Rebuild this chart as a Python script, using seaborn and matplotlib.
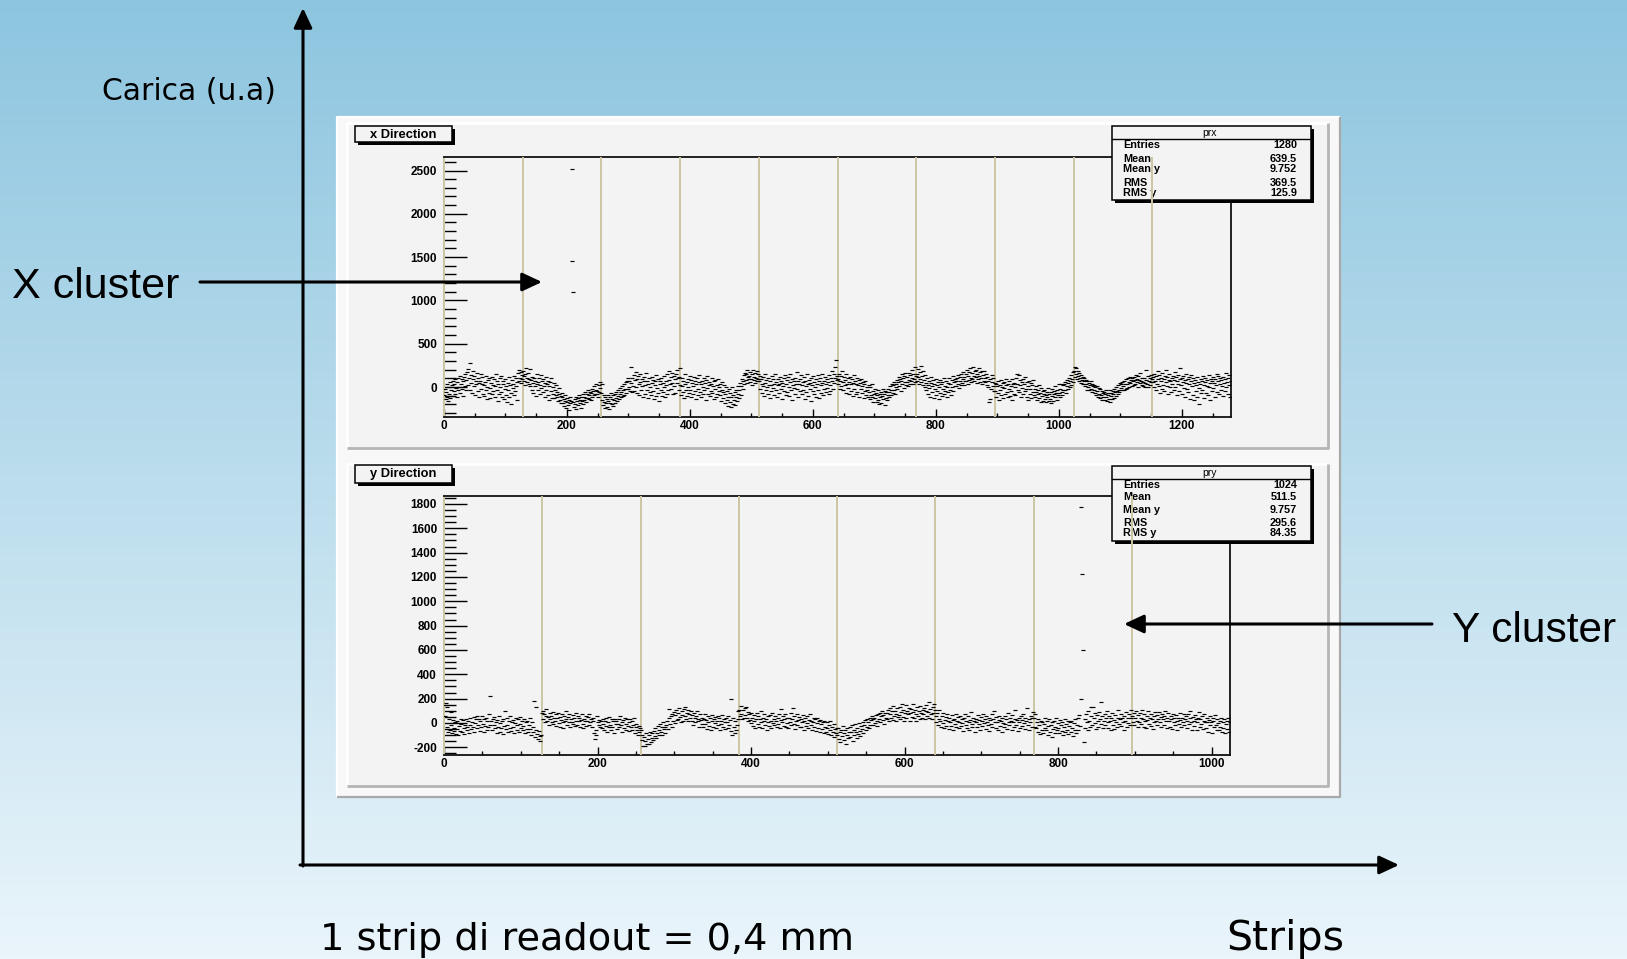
import numpy as np
import pandas as pd
import matplotlib
matplotlib.use("Agg")
import matplotlib.pyplot as plt
from matplotlib.patches import Rectangle
from matplotlib.lines import Line2D
from matplotlib.ticker import MultipleLocator
import seaborn as sns

# ---------------------------------------------------------------- data
# Charge per readout strip, x direction (10 APV chips x 128 strips)
x_apv0 = [-95, -20, -140, -55, 40, -110, -160, -5, -75, 60, -130, -35, 25, -100, 70, -50,
          30, -85, 95, -15, -120, 55, -40, 110, 5, -70, 130, 35, -25, 90, -105, 65,
          120, 10, 150, -40, 85, 175, 20, 210, 100, -30, 280, 45, 135, -65, 95, 190,
          15, 130, -90, 75, 35, 165, -45, 105, 50, -120, 70, 145, -20, 30, 115, -80,
          25, -105, 60, -35, 130, -140, 5, 80, -70, 100, -15, -125, 45, 120, -85, 20,
          -50, 90, -115, 10, 150, -30, 65, -160, 40, -75, 110, -5, -60, 125, -120, 35,
          70, -140, -25, 95, -90, 15, -170, 50, -40, 115, -110, 20, -65, -195, 80, -10,
          40, -95, 130, -45, 15, 100, -150, 60, 160, 75, 200, 110, 45, 170, 90, 135]
x_apv1 = [180, 70, 130, 20, 150, 225, 55, 110, 165, 30, 95, 205, 10, 80, -30, 120,
          45, -70, 105, 15, 75, -100, 35, 145, -40, 60, 100, -80, 25, 135, -15, 65,
          -55, 90, 10, -115, 50, 120, -30, 35, -95, 75, -150, 15, 60, -45, 100, -125,
          -5, -80, 45, -130, -40, -95, 25, -120, -60, -160, -85, -15, -145, -100, -180, -65,
          -110, -185, -140, -220, -160, -95, -245, -170, -130, -205, -150, -265, -120, -190, -160, 1450,
          2520, -175, 1100, -230, -140, -200, -115, -255, -165, -130, -210, -90, -185, -145, -240, -120,
          -160, -75, -195, -110, -150, -55, -130, -170, -85, -125, -30, -140, -95, -60, -155, -70,
          -20, -110, -45, -95, 10, -75, -30, 40, -85, -50, -120, 20, -60, -15, 55, -70]
x_apv2 = [40, -150, -210, -90, -175, -240, -115, -190, -140, -225, -95, -165, -250, -120, -185, -70,
          -200, -135, -95, -215, -155, -80, -180, -125, -60, -160, -100, -30, -140, -75, -10, -115,
          -60, 15, -105, -35, 40, -90, -20, 55, -70, 65, -25, 110, 0, 75, -45, 230,
          45, -60, 105, 15, 140, -50, 80, 175, -5, 95, -65, 125, 30, -95, 60, 150,
          -40, 90, 10, -115, 70, 120, -75, 25, 160, -30, 65, -130, 35, 100, -60, 5,
          -90, 50, 115, -45, 85, -140, 20, 70, -105, 135, -10, -70, 95, -165, 40, 75,
          -35, 110, -100, 45, -55, 125, 5, -120, 75, 25, -80, 145, -40, 85, 190, 30,
          115, -25, 160, 50, -85, 130, 15, 90, -65, 150, 195, 45, 105, -40, 120, 215]
x_apv3 = [25, -90, 110, 10, -55, 75, -125, 40, 145, -30, 60, -105, 90, -5, -70, 130,
          -35, 85, -115, 45, 15, -80, 120, -45, 65, -140, 30, 100, -20, -95, 55, 140,
          -60, 35, -120, 75, 5, -75, 105, -30, 50, -150, 85, -15, 125, -85, 20, 60,
          -105, 40, -45, 110, -70, 15, -135, 65, -25, 85, -115, 25, -80, 95, -50, 0,
          -95, 30, -160, -35, 55, -125, -60, 20, -185, -85, 5, -150, -45, -215, -110, -20,
          -170, -70, -225, -120, -5, -195, -95, -145, -60, -205, -110, -35, -160, -85, 10, -125,
          -40, 45, -95, 15, 95, -20, 70, 135, 30, 160, 80, 145, 50, 200, 115, 90,
          130, 60, 175, 95, 25, 145, 200, 80, 120, 45, 165, 100, 190, 70, 150, 95]
x_apv4 = [70, 130, -25, 95, 35, -65, 115, 10, -100, 50, 145, -40, 85, 0, -75, 105,
          25, -125, 65, 20, -50, 125, -15, 90, -90, 40, 155, -30, 60, -110, 20, 95,
          -70, 35, 115, -20, 75, -135, 45, 10, 100, -45, 140, -95, 30, 85, -55, 120,
          5, -105, 60, 150, -35, 90, -145, 25, 65, -15, 110, -75, 40, 170, -25, 75,
          -120, 35, 95, -50, 135, 20, -85, 55, -30, 115, -135, 70, 10, -60, 145, 30,
          -100, 85, -20, 50, -160, 100, 25, -45, 125, -80, 60, 0, 90, -110, 35, 140,
          -40, 65, -125, 110, 20, -70, 150, 45, -95, 75, -25, 120, -55, 30, 95, -15,
          60, -85, 135, 25, -50, 100, 180, 70, -20, 145, 50, 230, 110, 310, 130, 85]
x_apv5 = [95, 35, 155, -25, 70, 130, 10, 190, 55, -40, 115, 25, 85, -65, 145, 40,
          -15, 100, -75, 60, 120, -45, 30, 90, -100, 50, 140, -20, 70, -85, 35, 110,
          -55, 20, 85, -110, 45, -25, 95, -70, 10, 60, -125, 30, -50, 75, -95, 0,
          -30, -110, 20, -60, -140, -5, -90, 40, -120, -50, -170, -80, -20, -130, -70, -175,
          -95, -35, -150, -195, -75, -120, -55, -185, -105, -25, -140, -85, -210, -45, -125, -60,
          -155, -95, -20, -120, -55, 15, -90, -40, 30, -70, 20, -30, 60, -80, 40, 0,
          85, -25, 60, 120, 10, 95, -50, 70, 145, 35, 110, -15, 130, 60, 165, 25,
          60, 120, 15, 165, 85, 30, 140, 70, 195, 100, 40, 150, 90, 230, 55, 125]
x_apv6 = [155, 70, 210, 120, 35, 175, 90, 240, 55, 130, 20, 185, 80, -5, 140, 45,
          -30, 100, 25, -80, 65, -10, -110, 45, 115, -55, 10, 80, -125, 35, -25, 90,
          -90, 20, -45, 60, -140, 5, 85, -70, 30, -105, 55, -20, 110, -80, 15, -50,
          65, -115, 5, 45, -60, 100, -30, 30, -95, 80, -5, 130, -45, 55, 95, 10,
          75, 10, 105, 30, 135, -15, 65, 115, 20, 150, 50, 90, 170, 25, 120, 70,
          150, 70, 195, 35, 125, 175, 85, 215, 110, 55, 165, 95, 235, 130, 65, 180,
          115, 200, 50, 155, 90, 220, 130, 60, 170, 100, 190, 35, 140, 75, 180, 110,
          60, 155, 20, 115, 75, 0, -170, -140, 90, -20, 55, 140, 10, 100, -45, 45]
x_apv7 = [-50, 35, -110, 10, 75, -70, -145, 20, -35, 85, -95, 0, 50, -130, -10, 60,
          -85, 25, 95, -60, -120, 35, -25, 70, -105, 15, -50, 90, -155, 30, -75, 45,
          5, -95, 110, 150, 40, -35, 140, -60, 20, 85, -120, 55, -10, 95, -85, 35,
          -50, 120, -25, -110, 60, 10, -145, 70, -75, -20, 45, -130, 25, -60, 85, -95,
          -20, -110, 15, -60, -150, -30, -85, 25, -125, -65, -170, -10, -100, -45, -160, -75,
          -40, -135, -90, -175, -55, -115, -15, -160, -80, -140, -185, -60, -105, -25, -165, -85,
          -45, -120, 15, -70, -150, -35, -95, 35, -65, -20, -115, 40, -55, -90, 20, -30,
          30, -35, 60, -70, 15, 85, -20, 45, 110, 5, 70, 135, 25, 95, 170, 55]
x_apv8 = [190, 227, 120, 215, 150, 95, 185, 125, 70, 160, 110, 45, 140, 85, 30, 115,
          65, 105, 15, 80, 40, -30, 75, 5, 50, -40, 25, 65, -20, 35, -55, 10,
          -35, 25, -65, 0, -90, 10, -45, -110, -15, -75, -130, -25, -95, -50, -145, -70,
          -115, -55, -150, -80, -30, -120, -165, -65, -95, -135, -40, -175, -100, -70, -140, -45,
          -85, -125, -20, -60, -100, 5, -45, -80, 20, -30, -55, 45, -15, 35, -40, 60,
          10, -40, 70, 30, -25, 90, 40, -15, 100, 55, -5, 120, 45, 80, 15, 110,
          70, 25, 120, 80, 35, 140, 55, 95, 5, 125, 85, 45, 160, 65, 105, 20,
          60, 15, 110, 50, -5, 80, 196, 40, 130, 5, 70, 100, 25, 140, 55, 90]
x_apv9 = [60, 120, 5, 150, 75, -30, 130, 40, 180, 90, 15, 140, -70, 105, 65, -20,
          165, 25, 95, -50, 125, 55, 195, 10, 115, -85, 80, 150, -5, 70, -60, 105,
          40, 130, -35, 85, 175, 0, 115, -95, 65, 30, 140, -45, 90, 215, 20, 100,
          -75, 55, 125, -10, 80, -120, 45, 150, -25, 95, -60, 115, 35, -140, 70, 135,
          10, -90, 105, 45, -155, 85, 20, -50, 120, -110, 60, -15, -200, 35, 95, -65,
          70, -35, 130, 20, -130, 60, 105, -70, 15, 85, -95, 140, -5, -150, 50, 95,
          -45, 75, 120, -15, 50, -115, 95, 25, 155, -60, 65, 130, -85, 35, 105, -30,
          85, 10, -100, 120, 50, -45, 95, 165, -5, 60, -75, 110, 25, 135, -120, 70]

# Charge per readout strip, y direction (8 APV chips x 128 strips)
y_apv0 = [150, 60, 165, -35, 130, -70, 35, -55, 90, -20, -80, 25, -65, -40, 10, -90,
          -50, 20, -95, -25, -65, 35, -10, -75, 25, -40, -90, -15, 30, -60, -30, 15,
          -80, -20, 40, -50, 10, -30, 50, -70, 0, 30, -45, 60, -15, 35, -65, 20,
          -35, 55, -10, -75, 30, -25, 45, -55, 15, -35, 70, -15, 220, 20, -60, 35,
          -20, 50, -40, 10, -85, 25, -30, 55, -70, 0, -45, 20, -90, 30, -25, 95,
          -50, 40, -20, -75, 15, -45, 55, -65, 10, -35, 25, -80, 0, 45, -55, -15,
          30, -70, -10, 50, -40, 20, -60, -25, 35, -85, 5, -50, 20, -70, -15, 45,
          -50, -100, 10, -35, -75, 178, -115, 130, -60, -90, -135, -65, -110, -150, -95, 80]
y_apv1 = [95, 35, 75, 5, 60, 115, 20, 50, -15, 85, 30, 60, 10, 90, -5, 45,
          15, 70, -25, 40, 80, 0, 50, -30, 25, 75, 10, -40, 60, 20, 100, 35,
          -15, 50, 10, 70, -35, 35, 5, 65, -5, 40, -25, 85, 20, -20, 55, 15,
          45, -30, 25, 70, -5, -45, 35, 15, 60, -25, 20, 50, -15, 75, 10, 30,
          -35, 15, 45, -85, -130, -60, -95, 55, 5, 25, -20, -30, 15, -45, 35, -5,
          -55, 20, -25, 40, -70, 5, -35, 50, -15, -60, 30, -30, 15, -80, 35, -10,
          20, -50, -5, 35, -35, 60, -20, -70, 10, 25, -45, 45, -10, -55, 30, -25,
          5, -65, 30, -30, 15, -55, -15, 40, -80, -35, -5, -60, -95, -25, -70, -45]
y_apv2 = [-55, -140, -95, -185, -115, -190, -150, -80, -175, -130, -100, -170, -70, -155, -120, -85,
          -140, -65, -110, -45, -125, -80, -25, -95, -55, -10, -75, -35, -100, 10, -50, -30,
          -85, -15, 20, -50, 40, 118, -10, 55, -30, 70, 20, 90, 0, 65, 105, 25,
          85, 30, 120, 50, 5, 100, 65, 20, 115, 55, 130, 35, 80, 15, 105, 70,
          45, 95, 15, 65, -20, 85, 40, 5, 60, 100, 20, 35, -30, 75, 25, -5,
          40, -35, 30, 70, -10, 25, -50, 55, 10, -25, 45, -55, 20, 65, -30, 30,
          0, 50, -40, 15, 60, -20, 40, -60, 20, -5, 65, -35, 30, 5, -50, 45,
          10, -45, 55, -20, 25, 200, -65, -100, 40, -30, -85, 15, -55, -15, 30, 95]
y_apv3 = [110, 55, 140, 75, 30, 105, 40, 125, 65, 130, 45, 90, 15, 70, 25, 85,
          0, 45, -25, 65, 20, -40, 35, 80, -10, 55, -30, 30, 95, 5, -45, 40,
          15, 70, -15, 30, -55, 55, 10, -25, 65, 20, -40, 85, 0, 35, -20, 60,
          20, -35, 45, -5, 75, -45, 25, 118, 5, 55, -25, 30, 70, -30, 40, 0,
          -40, 45, 10, 80, -20, 35, 120, -10, 60, -50, 20, 70, -15, 25, 50, -30,
          30, -35, 5, 65, -55, 20, 45, -25, 55, 0, -40, 25, 75, -15, 15, -60,
          10, 45, -30, 30, -65, 0, 40, -40, 15, -75, 25, -10, -50, 5, -85, 20,
          -35, -70, 5, -45, -90, -20, 15, -60, -100, -30, -75, -5, -115, -50, -85, -40]
y_apv4 = [-95, -40, -135, -75, -155, -55, -110, -25, -140, -85, -60, -170, -100, -45, -125, -70,
          -35, -115, -75, -20, -145, -55, -95, -10, -70, -125, -40, -90, 0, -65, -110, -25,
          -50, 10, -80, -20, 25, -60, 35, -30, 10, -45, 40, -15, 25, 55, -20, 35,
          45, 0, 65, 20, -25, 70, 35, 85, 5, 55, 95, 25, 65, -10, 80, 40,
          85, 35, 110, 15, 70, 125, 45, 95, 25, 140, 55, 100, 20, 75, 120, 50,
          65, 130, 30, 90, 155, 50, 110, 20, 80, 145, 40, 100, 70, 125, 15, 85,
          115, 50, 90, 160, 40, 105, 70, 20, 130, 60, 100, 30, 140, 80, 45, 110,
          70, 125, 30, 100, 150, 55, 90, 170, 45, 115, 75, 35, 135, 85, 160, 105]
y_apv5 = [60, 5, 85, -20, 35, 110, 15, -35, 55, 0, 80, -45, 25, 50, -25, 70,
          15, -50, 45, 5, -25, 65, 25, -55, 35, -5, 75, -35, 20, 50, -40, 10,
          55, -25, 30, 0, -65, 40, 70, -15, 20, -45, 60, 10, -55, 25, 90, -5,
          -30, 45, 15, -70, 35, 5, -35, 65, -5, 25, -55, 50, 15, -25, 75, 0,
          30, -50, 60, 10, -20, 45, -65, 25, -5, 70, -30, 35, 95, 10, -40, 50,
          5, -55, 25, 60, -25, 15, -75, 40, 0, -35, 55, -10, 30, -50, 80, 10,
          -15, 45, 15, -55, 65, 5, -30, 35, 110, -20, 25, -65, 45, 10, -40, 55,
          25, -25, 70, 0, -50, 45, 15, 120, -15, 35, -55, 10, 60, -30, 40, 90]
y_apv6 = [45, -30, 75, -45, 5, -70, 30, -20, -90, 20, -55, 10, -80, -10, 40, -40,
          -60, 15, -100, -25, 35, -70, -15, -115, 5, -50, 20, -85, -30, 45, -60, 0,
          -45, -80, 25, -20, -65, 10, -100, -35, 30, -75, -10, -55, 20, -90, -25, 10,
          -70, 15, -40, -105, 0, -55, 30, -80, -20, 40, -60, 65, -25, 194, 1772, 1221,
          597, -160, 30, -45, 70, 5, -60, 95, 20, -35, 55, 134, -15, 130, 40, 80,
          0, -50, 65, 20, -30, 90, 30, 170, -10, 55, -45, 15, 75, -20, 45, 95,
          5, -40, 60, 15, -60, 40, 80, -15, 25, -50, 65, 10, -30, 45, 105, -10,
          30, 75, -25, 45, 10, -55, 55, 20, 90, -35, 40, 0, 70, -15, 110, 45]
y_apv7 = [55, 5, 80, -20, 40, 95, 20, -35, 65, 10, 85, -10, 45, 110, 30, -30,
          70, 15, -45, 60, 25, 100, -5, 45, -25, 75, 35, -50, 55, 10, 90, 20,
          -15, 65, 35, 90, 5, 50, -30, 70, 30, -15, 60, 95, 15, -40, 45, 80,
          20, -30, 55, 35, -50, 70, 10, 40, -20, 65, 20, -60, 45, -5, 85, 25,
          -35, 45, 5, 70, -15, 30, 55, -45, 15, 75, -10, 40, 95, 10, -55, 50,
          20, -25, 65, 35, -60, 10, 45, 90, -30, 30, -5, 60, -50, 15, 70, 5,
          -40, 40, 10, -70, 25, 55, -20, 5, -80, 45, 20, -35, 65, -15, 35, -55,
          0, -60, 20, -30, 45, -75, 10, -45, 30, -85, -10, 15, -50, 40, -70, 5]

x_charge = (x_apv0 + x_apv1 + x_apv2 + x_apv3 + x_apv4
            + x_apv5 + x_apv6 + x_apv7 + x_apv8 + x_apv9)
y_charge = (y_apv0 + y_apv1 + y_apv2 + y_apv3
            + y_apv4 + y_apv5 + y_apv6 + y_apv7)

# axis ticks
x_dir_xticks = [0, 200, 400, 600, 800, 1000, 1200]
x_dir_yticks = [0, 500, 1000, 1500, 2000, 2500]
y_dir_xticks = [0, 200, 400, 600, 800, 1000]
y_dir_yticks = [-200, 0, 200, 400, 600, 800, 1000, 1200, 1400, 1600, 1800]

# statistics boxes
prx_labels = ["Entries", "Mean", "Mean y", "RMS", "RMS y"]
prx_values = ["1280", "639.5", "9.752", "369.5", "125.9"]
pry_labels = ["Entries", "Mean", "Mean y", "RMS", "RMS y"]
pry_values = ["1024", "511.5", "9.757", "295.6", "84.35"]

# ---------------------------------------------------------------- figure
W, H = 1627, 959
fig = plt.figure(figsize=(W / 100, H / 100), dpi=100)
FIGT = fig.transFigure


def fx(px):
    return px / W


def fy(py):
    return 1 - py / H


def rect_axes(x0, y0, x1, y1):
    return [fx(x0), fy(y1), fx(x1) - fx(x0), fy(y0) - fy(y1)]


SANS = ["Liberation Sans", "DejaVu Sans"]
ROUND = ["DejaVu Sans"]
TAN = "#cdc6a5"
PANEL = "#f3f3f3"

# slide background: vertical gradient
bg = fig.add_axes([0, 0, 1, 1], zorder=-10)
c_top = np.array([0.553, 0.773, 0.875])
c_bot = np.array([0.918, 0.961, 0.984])
t = np.linspace(0, 1, 300)[:, None]
grad = c_top * (1 - t) + c_bot * t
bg.imshow(grad[:, None, :], aspect="auto", extent=[0, 1, 0, 1], origin="upper")
bg.set_xlim(0, 1)
bg.set_ylim(0, 1)
bg.set_axis_off()


def bevel_box(ax, x0, y0, x1, y1, fill, light, dark, lw, z):
    ax.add_patch(Rectangle((fx(x0), fy(y1)), fx(x1) - fx(x0), fy(y0) - fy(y1),
                           transform=FIGT, facecolor=fill, edgecolor="none",
                           zorder=z, clip_on=False))
    ax.add_line(Line2D([fx(x0), fx(x0), fx(x1)], [fy(y1), fy(y0), fy(y0)],
                       transform=FIGT, color=light, lw=lw, zorder=z + 0.1,
                       clip_on=False, solid_capstyle="butt"))
    ax.add_line(Line2D([fx(x0), fx(x1), fx(x1)], [fy(y1), fy(y1), fy(y0)],
                       transform=FIGT, color=dark, lw=lw, zorder=z + 0.1,
                       clip_on=False, solid_capstyle="butt"))


# ROOT canvas and its two pads
bevel_box(bg, 337, 117, 1340, 797, "#f8f8f8", "#ffffff", "#a9a9a9", 1.6, 1)
bevel_box(bg, 347, 123, 1328, 448, PANEL, "#ffffff", "#b5b5b5", 2.0, 2)
bevel_box(bg, 347, 464, 1328, 786, PANEL, "#ffffff", "#b5b5b5", 2.0, 2)


def shadow_box(ax, x0, y0, x1, y1, z, fill=PANEL):
    ax.add_patch(Rectangle((fx(x0 + 3), fy(y1 + 3)), fx(x1) - fx(x0), fy(y0) - fy(y1),
                           transform=FIGT, facecolor="black", edgecolor="none",
                           zorder=z, clip_on=False))
    ax.add_patch(Rectangle((fx(x0), fy(y1)), fx(x1) - fx(x0), fy(y0) - fy(y1),
                           transform=FIGT, facecolor=fill, edgecolor="black",
                           lw=1.1, zorder=z + 0.05, clip_on=False))


# pad titles
for (y0, y1, title) in [(126, 142, "x Direction"), (465, 483, "y Direction")]:
    shadow_box(bg, 355, y0, 452, y1, 3)
    bg.text(fx(403.5), fy((y0 + y1) / 2 + 0.5), title, transform=FIGT,
            ha="center", va="center", fontsize=9.3, fontweight="bold",
            family=SANS, zorder=4)


def stats_box(ax, y0, y1, hdr, name, labels, values, baselines):
    x0, x1 = 1112, 1311
    shadow_box(ax, x0, y0, x1, y1, 3)
    ax.add_line(Line2D([fx(x0), fx(x1)], [fy(hdr), fy(hdr)], transform=FIGT,
                       color="black", lw=1.0, zorder=3.1, clip_on=False))
    ax.text(fx(1210), fy((y0 + hdr) / 2), name, transform=FIGT, ha="center",
            va="center", fontsize=7.5, family=SANS, zorder=3.2, clip_on=False)
    for lab, val, b in zip(labels, values, baselines):
        ax.text(fx(1123), fy(b), lab, transform=FIGT, ha="left", va="baseline",
                fontsize=7.8, fontweight="bold", family=SANS, zorder=3.2,
                clip_on=False)
        ax.text(fx(1297), fy(b), val, transform=FIGT, ha="right", va="baseline",
                fontsize=7.8, fontweight="bold", family=SANS, zorder=3.2,
                clip_on=False)


panels = [
    dict(pos=(444, 157, 1231, 417), data=x_charge, xlim=(0, 1280),
         ylim=(-346, 2656), xt=x_dir_xticks, yt=x_dir_yticks, yminor=100,
         box=(126, 200, 139, "prx", prx_labels, prx_values,
              [148.5, 161.5, 172.5, 186.5, 195.5])),
    dict(pos=(444, 496, 1230, 755), data=y_charge, xlim=(0, 1024),
         ylim=(-263, 1865), xt=y_dir_xticks, yt=y_dir_yticks, yminor=50,
         box=(466, 541, 479, "pry", pry_labels, pry_values,
              [487.5, 500.5, 513, 526.5, 536.5])),
]

for p in panels:
    ax = fig.add_axes(rect_axes(*p["pos"]))
    ax.set_facecolor(PANEL)
    df = pd.DataFrame({"strip": np.arange(len(p["data"])) + 0.5,
                       "charge": p["data"]})
    sns.scatterplot(data=df, x="strip", y="charge", ax=ax, marker="_", s=5,
                    linewidth=0.85, color="black", zorder=4, legend=False)
    # APV chip boundaries every 128 strips
    for k in range(128, p["xlim"][1], 128):
        ax.axvline(k, color=TAN, lw=1.4, zorder=3.5)
    ax.set_xlim(*p["xlim"])
    ax.set_ylim(*p["ylim"])
    ax.set_xlabel("")
    ax.set_ylabel("")
    ax.set_xticks(p["xt"])
    ax.set_xticklabels([str(v) for v in p["xt"]], fontsize=8.5,
                       fontweight="bold", family=SANS)
    ax.set_yticks(p["yt"])
    ax.set_yticklabels([str(v) for v in p["yt"]], fontsize=8.5,
                       fontweight="bold", family=SANS)
    ax.xaxis.set_minor_locator(MultipleLocator(50))
    ax.yaxis.set_minor_locator(MultipleLocator(p["yminor"]))
    ax.tick_params(axis="y", which="major", direction="in", length=16.5,
                   width=1.0, pad=5, left=True, right=False, color="black")
    ax.tick_params(axis="y", which="minor", direction="in", length=8.6,
                   width=1.0, left=True, right=False, color="black")
    ax.tick_params(axis="x", which="major", direction="in", length=5.8,
                   width=1.0, pad=2, bottom=True, top=False, color="black")
    ax.tick_params(axis="x", which="minor", direction="in", length=3.0,
                   width=1.0, bottom=True, top=False, color="black")
    for side in ("top", "right", "bottom"):
        ax.spines[side].set_color("#111111")
        ax.spines[side].set_linewidth(1.3)
    ax.spines["left"].set_color(TAN)
    ax.spines["left"].set_linewidth(1.5)
    stats_box(ax, *p["box"])

# slide overlay: axis arrows, annotations and captions
ov = fig.add_axes([0, 0, 1, 1], zorder=10)
ov.set_xlim(0, 1)
ov.set_ylim(0, 1)
ov.set_axis_off()


def arrow(x_from, y_from, x_to, y_to, lw=2.2):
    ov.annotate("", xy=(fx(x_to), fy(y_to)), xytext=(fx(x_from), fy(y_from)),
                xycoords="figure fraction", textcoords="figure fraction",
                arrowprops=dict(arrowstyle="-|>,head_length=0.6,head_width=0.28",
                                color="black", lw=lw, mutation_scale=20,
                                shrinkA=0, shrinkB=0))


arrow(303, 866, 303, 8)       # charge axis
arrow(300, 865, 1399, 865)    # strip axis
arrow(200, 282, 542, 282)     # X cluster pointer
arrow(1432, 624, 1124, 624)   # Y cluster pointer

ov.text(fx(102), fy(100), "Carica (u.a)", ha="left", va="baseline",
        fontsize=21.5, family=ROUND, transform=FIGT)
ov.text(fx(12), fy(298), "X cluster", ha="left", va="baseline",
        fontsize=31, family=SANS, transform=FIGT)
ov.text(fx(1452), fy(642), "Y cluster", ha="left", va="baseline",
        fontsize=30.5, family=SANS, transform=FIGT)
ov.text(fx(320), fy(950), "1 strip di readout = 0,4 mm", ha="left",
        va="baseline", fontsize=27.5, family=ROUND, transform=FIGT)
ov.text(fx(1226), fy(950), "Strips", ha="left", va="baseline",
        fontsize=29.5, family=ROUND, transform=FIGT)

fig.savefig("out.png", dpi=100)
